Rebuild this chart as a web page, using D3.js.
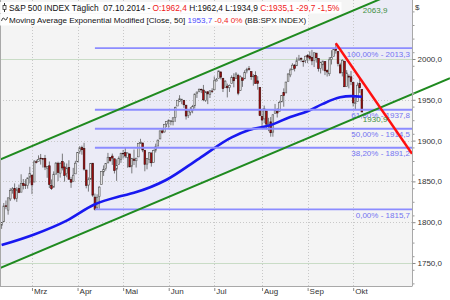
<!DOCTYPE html>
<html lang="de">
<head>
  <meta charset="UTF-8">
  <title>S&P 500 INDEX Täglich</title>
  <script src="https://cdn.jsdelivr.net/npm/d3@7/dist/d3.min.js"></script>
  <style>
    body { margin: 0; background: #fff; }
    svg { display: block; font-family: "Liberation Sans", Arial, sans-serif; }
    .hdr { white-space: pre; }
  </style>
</head>
<body>
  <div class="chart"></div>
  <script>
    // trading days shown (Feb 10 - Oct 7 2014)
    const dates = [
      '2014-02-10','2014-02-11','2014-02-12','2014-02-13','2014-02-14','2014-02-18','2014-02-19','2014-02-20','2014-02-21','2014-02-24','2014-02-25','2014-02-26','2014-02-27','2014-02-28',
      '2014-03-03','2014-03-04','2014-03-05','2014-03-06','2014-03-07','2014-03-10','2014-03-11','2014-03-12','2014-03-13','2014-03-14','2014-03-17','2014-03-18','2014-03-19','2014-03-20','2014-03-21','2014-03-24','2014-03-25','2014-03-26','2014-03-27','2014-03-28','2014-03-31',
      '2014-04-01','2014-04-02','2014-04-03','2014-04-04','2014-04-07','2014-04-08','2014-04-09','2014-04-10','2014-04-11','2014-04-14','2014-04-15','2014-04-16','2014-04-17','2014-04-21','2014-04-22','2014-04-23','2014-04-24','2014-04-25','2014-04-28','2014-04-29','2014-04-30',
      '2014-05-01','2014-05-02','2014-05-05','2014-05-06','2014-05-07','2014-05-08','2014-05-09','2014-05-12','2014-05-13','2014-05-14','2014-05-15','2014-05-16','2014-05-19','2014-05-20','2014-05-21','2014-05-22','2014-05-23','2014-05-27','2014-05-28','2014-05-29','2014-05-30',
      '2014-06-02','2014-06-03','2014-06-04','2014-06-05','2014-06-06','2014-06-09','2014-06-10','2014-06-11','2014-06-12','2014-06-13','2014-06-16','2014-06-17','2014-06-18','2014-06-19','2014-06-20','2014-06-23','2014-06-24','2014-06-25','2014-06-26','2014-06-27','2014-06-30',
      '2014-07-01','2014-07-02','2014-07-03','2014-07-07','2014-07-08','2014-07-09','2014-07-10','2014-07-11','2014-07-14','2014-07-15','2014-07-16','2014-07-17','2014-07-18','2014-07-21','2014-07-22','2014-07-23','2014-07-24','2014-07-25','2014-07-28','2014-07-29','2014-07-30','2014-07-31',
      '2014-08-01','2014-08-04','2014-08-05','2014-08-06','2014-08-07','2014-08-08','2014-08-11','2014-08-12','2014-08-13','2014-08-14','2014-08-15','2014-08-18','2014-08-19','2014-08-20','2014-08-21','2014-08-22','2014-08-25','2014-08-26','2014-08-27','2014-08-28','2014-08-29',
      '2014-09-02','2014-09-03','2014-09-04','2014-09-05','2014-09-08','2014-09-09','2014-09-10','2014-09-11','2014-09-12','2014-09-15','2014-09-16','2014-09-17','2014-09-18','2014-09-19','2014-09-22','2014-09-23','2014-09-24','2014-09-25','2014-09-26','2014-09-29','2014-09-30',
      '2014-10-01','2014-10-02','2014-10-03','2014-10-06','2014-10-07'
    ]
    const opens = [
      1796.2,1800.5,1820.1,1814.8,1828.5,1839.3,1841.1,1829.2,1841.1,1836.8,1847.7,1845.8,1844.9,1855.1,
      1857.7,1849.2,1874.1,1874.2,1878.5,1877.9,1878.3,1866.2,1869.1,1845.1,1842.8,1858.9,1872.3,1860.1,1874.5,1867.7,1859.5,1867.1,1852.1,1850.1,1859.2,
      1873.9,1886.6,1891.4,1890.3,1863.9,1845.5,1852.6,1872.3,1830.7,1818.2,1831.5,1846.0,1861.7,1865.8,1872.6,1879.3,1881.0,1877.7,1865.0,1870.8,1877.1,
      1884.4,1885.3,1879.5,1883.7,1868.5,1877.4,1875.3,1880.0,1896.8,1897.1,1888.2,1871.2,1876.7,1884.9,1873.3,1888.2,1893.3,1902.0,1911.8,1910.6,1920.3,
      1923.9,1923.1,1923.1,1928.5,1942.4,1948.0,1950.3,1949.4,1943.4,1930.8,1934.8,1937.2,1942.7,1957.5,1960.5,1962.9,1961.9,1949.3,1959.9,1956.6,1960.8,
      1962.3,1973.1,1975.9,1984.2,1976.4,1965.1,1966.7,1965.0,1969.9,1977.4,1976.4,1979.8,1961.5,1976.9,1975.7,1985.3,1988.1,1984.6,1978.3,1980.0,1973.2,1965.1,
      1929.8,1926.6,1936.3,1917.3,1923.0,1910.4,1933.4,1935.7,1935.6,1947.4,1958.9,1958.4,1972.7,1980.5,1986.8,1992.6,1991.7,1998.6,2000.5,1997.4,1998.5,
      2004.1,2003.6,2001.7,1998.0,2007.2,2000.7,1988.4,1992.9,1996.7,1986.0,1981.9,1999.3,2003.1,2012.7,2009.1,1992.8,1983.3,1997.3,1966.2,1979.0,1978.2,
      1971.4,1945.8,1948.1,1970.0,1962.4
    ]
    const highs = [
      1799.9,1823.5,1826.6,1830.3,1841.7,1843.0,1847.5,1842.8,1846.1,1858.7,1852.9,1852.7,1854.5,1867.9,
      1857.7,1876.2,1876.5,1881.9,1883.6,1877.9,1882.4,1868.4,1874.4,1852.4,1862.3,1873.8,1874.1,1873.5,1884.0,1873.3,1871.9,1875.9,1855.6,1866.6,1875.2,
      1885.8,1893.2,1893.8,1897.3,1864.0,1854.9,1872.4,1872.5,1835.1,1834.2,1844.0,1862.4,1869.6,1871.9,1884.9,1879.8,1884.1,1877.7,1877.0,1880.6,1885.2,
      1888.6,1891.3,1885.5,1883.7,1878.8,1889.1,1878.6,1897.1,1902.2,1897.1,1888.2,1878.3,1886.0,1884.9,1888.8,1896.3,1901.3,1912.3,1914.5,1920.0,1924.0,
      1925.9,1925.1,1928.6,1941.7,1949.4,1955.6,1950.9,1949.4,1943.7,1937.3,1941.2,1943.7,1957.7,1959.9,1963.9,1963.7,1968.2,1960.8,1959.9,1961.5,1964.2,
      1978.6,1976.7,1985.6,1984.2,1976.4,1974.2,1969.8,1968.7,1979.9,1982.5,1983.9,1981.8,1979.9,1976.9,1986.2,1989.2,1991.4,1984.6,1981.5,1984.9,1978.9,1965.1,
      1937.4,1942.9,1936.3,1927.9,1928.9,1932.4,1944.9,1939.7,1948.4,1955.2,1964.0,1972.0,1982.6,1988.6,1994.8,1993.5,2002.0,2005.0,2002.1,1998.6,2004.1,
      2006.1,2009.3,2011.2,2007.7,2007.2,2001.0,1996.7,1997.7,1996.7,1987.2,2002.3,2010.7,2012.3,2019.3,2009.1,1995.4,1999.8,1997.3,1986.4,1981.3,1985.2,
      1971.4,1952.3,1971.2,1977.4,1962.4
    ]
    const lows = [
      1791.8,1800.4,1815.9,1809.2,1825.9,1835.0,1826.9,1824.9,1835.6,1836.8,1840.2,1840.7,1841.1,1847.5,
      1834.4,1849.2,1872.0,1874.2,1870.6,1867.0,1863.9,1854.4,1841.9,1839.6,1842.8,1858.9,1850.4,1854.6,1863.5,1849.7,1855.0,1852.6,1842.1,1850.1,1859.2,
      1873.9,1883.8,1882.7,1863.3,1841.5,1837.5,1852.4,1830.9,1814.4,1815.8,1816.3,1846.0,1856.7,1863.2,1872.6,1873.9,1870.2,1859.7,1850.6,1870.8,1872.7,
      1878.0,1878.5,1866.8,1867.7,1859.8,1870.1,1867.0,1880.0,1896.1,1885.8,1862.4,1864.8,1872.4,1868.1,1873.3,1885.4,1893.3,1902.0,1908.5,1909.8,1916.6,
      1915.9,1918.8,1918.6,1922.9,1942.4,1947.2,1944.6,1940.1,1925.8,1927.7,1930.9,1933.5,1939.3,1952.3,1959.2,1958.2,1948.3,1947.5,1944.7,1952.2,1958.2,
      1962.3,1972.6,1975.9,1974.9,1959.5,1965.1,1952.9,1959.6,1969.9,1965.3,1975.7,1955.6,1960.8,1965.8,1975.7,1982.4,1985.8,1974.4,1967.3,1969.9,1962.4,1930.0,
      1916.4,1921.2,1913.8,1911.5,1904.8,1904.8,1933.4,1928.3,1935.6,1947.4,1941.5,1958.4,1972.7,1977.7,1986.8,1984.8,1991.7,1998.6,1996.2,1990.5,1994.9,
      1994.9,1998.2,1992.5,1990.1,1995.6,1984.6,1982.3,1985.9,1980.3,1978.5,1979.1,1993.3,2003.1,2006.6,1991.0,1982.8,1978.6,1966.0,1966.2,1964.0,1968.0,
      1941.7,1937.5,1948.1,1958.4,1934.9
    ]
    const closes = [
      1799.8,1819.8,1819.3,1829.8,1838.6,1840.8,1828.8,1839.8,1836.3,1847.6,1845.1,1845.2,1854.3,1859.5,
      1845.7,1873.9,1873.8,1877.0,1878.0,1877.2,1867.6,1868.2,1846.3,1841.1,1858.8,1872.3,1860.8,1872.0,1866.5,1857.4,1865.6,1852.6,1849.0,1857.6,1872.3,
      1885.5,1890.9,1888.8,1865.1,1845.0,1852.0,1872.2,1833.1,1815.7,1830.6,1843.0,1862.3,1864.9,1871.9,1879.6,1875.4,1878.6,1863.4,1869.4,1878.3,1884.0,
      1883.7,1881.1,1884.7,1867.7,1878.2,1875.6,1878.5,1896.7,1897.5,1888.5,1870.9,1877.9,1885.1,1872.8,1888.0,1892.5,1900.5,1911.9,1909.8,1920.0,1923.6,
      1925.0,1924.2,1927.9,1940.5,1949.4,1951.3,1950.8,1943.9,1930.1,1936.2,1937.8,1942.0,1957.0,1959.5,1962.9,1962.6,1950.0,1959.5,1957.2,1961.0,1960.2,
      1973.3,1974.6,1985.4,1977.7,1963.7,1972.8,1964.7,1967.6,1977.1,1973.3,1981.6,1958.1,1978.2,1973.6,1983.5,1987.0,1988.0,1978.3,1978.9,1970.0,1970.1,1930.7,
      1925.2,1939.0,1920.2,1920.2,1909.6,1931.6,1936.9,1933.8,1946.7,1955.2,1955.1,1971.7,1981.6,1986.5,1992.4,1988.4,1997.9,2000.0,2000.1,1996.7,2003.4,
      2002.3,2000.7,1997.7,2007.7,2001.5,1988.4,1995.7,1997.5,1985.5,1984.1,1999.0,2001.6,2011.4,2010.4,1994.3,1982.8,1998.3,1966.0,1982.9,1977.8,1972.3,
      1946.2,1946.2,1967.9,1964.8,1935.1
    ]

    // Moving Average Exponential Modified [Close, 50]
    const maDates = ['2014-02-10','2014-03-04','2014-03-25','2014-04-11','2014-04-30','2014-05-08','2014-05-30','2014-06-20','2014-07-14','2014-07-24','2014-08-07','2014-08-20','2014-09-02','2014-09-11','2014-09-23','2014-09-30','2014-10-07']
    const maValues = [1772, 1785, 1802, 1822, 1832, 1836, 1852, 1878, 1904, 1913, 1919, 1929, 1936, 1945, 1953, 1954.5, 1953.7]

    // Fibonacci retracement (from the April low)
    const fibStart = '2014-04-11'
    const fibRatios = ['0,00%', '38,20%', '50,00%', '61,80%', '100,00%']
    const fibValues = [1815.7, 1891.2, 1914.5, 1937.8, 2013.3]

    // trend channel and down trend line
    const channelDates = ['2014-02-10', '2014-10-07']
    const channelUpper = [1877.7, 2063.9]
    const channelLower = [1744.7, 1930.9]
    const trendDates = ['2014-09-19', '2014-10-07']
    const trendValues = [2019.3, 1973.0]

    const monthLabels = ['Mrz', 'Apr', 'Mai', 'Jun', 'Jul', 'Aug', 'Sep', 'Okt']
    const monthStarts = ['2014-03-03','2014-04-01','2014-05-01','2014-06-02','2014-07-01','2014-08-01','2014-09-02','2014-10-01']
    const yTicks = [1750, 1800, 1850, 1900, 1950, 2000]

    const width = 450
    const height = 300
    const plot = { left: 0, top: 0, right: 412, bottom: 286 }

    const fmt = v => d3.format('.1f')(v).replace('.', ',')
    const idx = d => dates.indexOf(d)

    const x = d3.scaleLinear().domain([-0.737, 189.1]).range([plot.left, plot.right])
    const y = d3.scaleLinear().domain([1721.8, 2072.3]).range([plot.bottom, plot.top])

    const svg = d3.select('.chart').append('svg')
      .attr('width', width)
      .attr('height', height)

    const defs = svg.append('defs')
    defs.append('clipPath').attr('id', 'clip')
      .append('rect')
      .attr('x', plot.left).attr('y', plot.top)
      .attr('width', plot.right - plot.left).attr('height', plot.bottom - plot.top)
    defs.append('clipPath').attr('id', 'clipWide')
      .append('rect').attr('x', 0).attr('y', 0).attr('width', width).attr('height', plot.bottom)

    svg.append('rect')
      .attr('x', plot.left).attr('y', plot.top)
      .attr('width', plot.right - plot.left).attr('height', plot.bottom - plot.top)
      .attr('fill', '#f4f4f4')

    const g = svg.append('g').attr('clip-path', 'url(#clip)')

    // channel line helper: extend the two anchors across the picture
    function extended(dts, vals, x0, x1) {
      const ax = x(idx(dts[0])), ay = y(vals[0])
      const bx = x(idx(dts[1])), by = y(vals[1])
      const k = (by - ay) / (bx - ax)
      return [[x0, ay + k * (x0 - ax)], [x1, ay + k * (x1 - ax)]]
    }

    const up = extended(channelDates, channelUpper, 0, 450)
    const lo = extended(channelDates, channelLower, 0, 450)

    g.append('path')
      .attr('d', d3.line()([up[0], up[1], lo[1], lo[0]]) + 'Z')
      .attr('fill', '#ebebf6')

    // grid
    g.selectAll('.hgrid')
      .data(yTicks)
      .enter().append('line')
      .attr('x1', plot.left).attr('x2', plot.right)
      .attr('y1', d => Math.round(y(d)) + 0.5).attr('y2', d => Math.round(y(d)) + 0.5)
      .attr('stroke', d => d % 250 === 0 ? '#c9dcc6' : '#c8c8c8')
      .attr('stroke-dasharray', d => d % 250 === 0 ? null : '1,2')

    g.selectAll('.vgrid')
      .data(monthStarts)
      .enter().append('line')
      .attr('x1', d => Math.round(x(idx(d))) + 0.5).attr('x2', d => Math.round(x(idx(d))) + 0.5)
      .attr('y1', plot.top).attr('y2', plot.bottom)
      .attr('stroke', '#c8c8c8')
      .attr('stroke-dasharray', '1,2')

    // candles
    const candles = g.selectAll('.candle')
      .data(dates.map((d, i) => ({ i, o: opens[i], h: highs[i], l: lows[i], c: closes[i] })))
      .enter().append('g')

    candles.append('line')
      .attr('x1', d => x(d.i)).attr('x2', d => x(d.i))
      .attr('y1', d => y(d.h)).attr('y2', d => y(d.l))
      .attr('stroke', '#5a5a5a')
      .attr('stroke-width', 0.8)

    candles.append('rect')
      .attr('x', d => x(d.i) - 0.85)
      .attr('width', 1.7)
      .attr('y', d => y(Math.max(d.o, d.c)))
      .attr('height', d => Math.max(0.6, Math.abs(y(d.o) - y(d.c))))
      .attr('fill', d => d.c >= d.o ? '#e6e6e6' : '#a80c0c')
      .attr('stroke', d => d.c >= d.o ? '#555' : '#3a1010')
      .attr('stroke-width', 0.6)

    // moving average
    g.append('path')
      .datum(maDates.map((d, i) => [x(idx(d)), y(maValues[i])]))
      .attr('d', d3.line().curve(d3.curveMonotoneX))
      .attr('fill', 'none')
      .attr('stroke', '#1818f0')
      .attr('stroke-width', 2.6)

    // fibonacci lines
    g.selectAll('.fib')
      .data(fibValues)
      .enter().append('line')
      .attr('x1', x(idx(fibStart))).attr('x2', plot.right)
      .attr('y1', d => y(d)).attr('y2', d => y(d))
      .attr('stroke', '#8c8cff')
      .attr('stroke-width', 1.8)

    svg.selectAll('.fibLabel')
      .data(fibValues)
      .enter().append('text')
      .attr('x', plot.right - 2)
      .attr('y', d => y(d) + 8.5)
      .attr('text-anchor', 'end')
      .style('font-size', '8px')
      .attr('fill', '#7373f2')
      .text((d, i) => fibRatios[i] + ' - ' + fmt(d))

    // channel lines
    const lines = svg.append('g').attr('clip-path', 'url(#clipWide)')
    ;[up, lo].forEach(seg => {
      lines.append('path')
        .attr('d', d3.line()(seg))
        .attr('stroke', '#1f8a1f')
        .attr('stroke-width', 2)
        .attr('fill', 'none')
    })

    // down trend line
    const tr = extended(trendDates, trendValues, x(idx(trendDates[0])), plot.right)
    lines.append('path')
      .attr('d', d3.line()(tr))
      .attr('stroke', '#ff1010')
      .attr('stroke-width', 2.4)
      .attr('fill', 'none')

    const last = dates.length - 1
    svg.selectAll('.chLabel')
      .data([channelUpper[1], channelLower[1]])
      .enter().append('text')
      .attr('x', x(last) + 1)
      .attr('y', d => y(d) + 6.5)
      .style('font-size', '8px')
      .attr('fill', '#3f8f3f')
      .text(d => fmt(d))

    // frame
    svg.append('line')
      .attr('x1', 0.5).attr('x2', 0.5).attr('y1', 0).attr('y2', plot.bottom)
      .attr('stroke', '#a8a8a8')
    svg.append('line')
      .attr('x1', 0).attr('x2', plot.right).attr('y1', plot.bottom + 0.5).attr('y2', plot.bottom + 0.5)
      .attr('stroke', '#a8a8a8')

    // right axis
    const minorTicks = d3.range(1725, 2070, 50 / 3)
    svg.append('g')
      .attr('transform', 'translate(' + (plot.right + 0.5) + ',0)')
      .call(d3.axisRight(y).tickValues(minorTicks).tickSize(2).tickFormat(''))
      .call(a => a.select('.domain').remove())
      .selectAll('line').attr('stroke', '#999')

    const yAxis = svg.append('g')
      .attr('transform', 'translate(' + (plot.right + 0.5) + ',0)')
      .call(d3.axisRight(y).tickValues(yTicks).tickSize(3).tickPadding(2).tickFormat(fmt))
    yAxis.select('.domain').attr('d', 'M0,0V' + (plot.bottom + 0.5)).attr('stroke', '#a8a8a8')
    yAxis.selectAll('line').attr('stroke', '#888')
    yAxis.selectAll('text')
      .style('font-size', '8px')
      .style('font-family', '"Liberation Sans", Arial, sans-serif')
      .attr('fill', '#333')

    svg.append('text')
      .attr('x', 415).attr('y', 10)
      .style('font-size', '8px')
      .attr('fill', '#333')
      .text('$')

    // bottom axis (month starts)
    const xAxis = svg.append('g')
      .attr('transform', 'translate(0,' + (plot.bottom + 2) + ')')
      .call(d3.axisBottom(x).tickValues(monthStarts.map(idx)).tickSize(3).tickFormat((d, i) => monthLabels[i]))
    xAxis.select('.domain').remove()
    xAxis.selectAll('line').attr('stroke', '#888')
    xAxis.selectAll('text')
      .attr('text-anchor', 'start')
      .attr('x', 1.5)
      .attr('dy', '0.55em')
      .attr('y', 2)
      .style('font-size', '8px')
      .style('font-family', '"Liberation Sans", Arial, sans-serif')
      .attr('fill', '#333')

    // header
    const header = [
      [['S&P 500 INDEX Täglich  07.10.2014 - ', '#111'], ['O:1962,4', '#f02020'], [' H:1962,4 L:1934,9 ', '#111'], ['C:1935,1 -29,7 -1,5%', '#f02020']],
      [['Moving Average Exponential Modified [Close, 50] ', '#111'], ['1953,7', '#4a4aff'], [' -0,4 0%', '#f02020'], [' (BB:SPX INDEX)', '#111']]
    ]
    const headerSizes = [8.35, 8.1]
    header.forEach((parts, k) => {
      const bg = svg.append('rect').attr('fill', '#fff').attr('opacity', 0.9)
      const t = svg.append('text')
        .attr('class', 'hdr')
        .attr('x', 9).attr('y', 11 + k * 12)
        .style('font-size', headerSizes[k] + 'px')
      parts.forEach(p => t.append('tspan').attr('fill', p[1]).text(p[0]))
      const w = t.node().getComputedTextLength()
      bg.attr('x', 0).attr('y', 2 + k * 12).attr('width', 9 + w + 2).attr('height', 11.5)
    })
    // little icons
    svg.append('line').attr('x1', 4.5).attr('x2', 4.5).attr('y1', 3).attr('y2', 12).attr('stroke', '#333')
    svg.append('rect').attr('x', 3).attr('y', 5.5).attr('width', 3).attr('height', 4).attr('fill', '#fff').attr('stroke', '#333').attr('stroke-width', 0.8)
    svg.append('path')
      .attr('d', 'M1.5,21 Q3,16 4.5,19 T7.5,17')
      .attr('fill', 'none').attr('stroke', '#333').attr('stroke-width', 0.9)
  </script>
</body>
</html>
